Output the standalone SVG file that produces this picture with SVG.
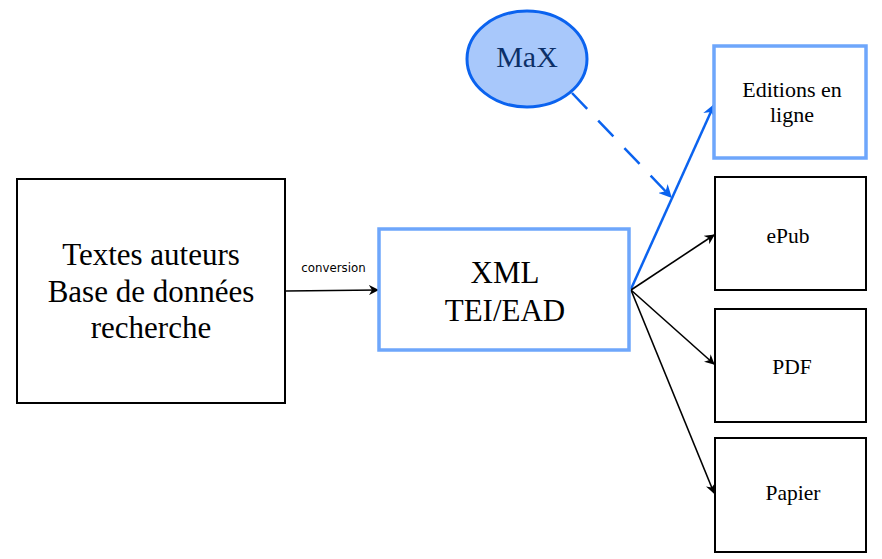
<svg xmlns="http://www.w3.org/2000/svg" width="882" height="559" viewBox="0 0 882 559">
<style>
.serif{font-family:"Liberation Serif","Times New Roman",serif;fill:#000;text-anchor:middle}
.box{fill:#fff;stroke:#000;stroke-width:2}
.bluebox{fill:#fff;stroke:#6ea6fb;stroke-width:3.5}
.conn{fill:none;stroke:#000;stroke-width:1.6}
</style>
<defs>
<marker id="ah" viewBox="0 0 10 10" refX="9" refY="5" markerWidth="10" markerHeight="10" markerUnits="userSpaceOnUse" orient="auto">
<path d="M0,0 L10,5 L0,10 L3,5 Z" fill="#000"/>
</marker>
<marker id="ahb" viewBox="0 0 10 10" refX="9" refY="5" markerWidth="13" markerHeight="13" markerUnits="userSpaceOnUse" orient="auto">
<path d="M0,0 L10,5 L0,10 L3,5 Z" fill="#0b63ef"/>
</marker>
</defs>
<rect width="882" height="559" fill="#fff"/>
<g id="connectors">
<line class="conn" x1="286" y1="291" x2="378" y2="290" marker-end="url(#ah)"/>
<text x="333.5" y="272" style="font-family:'DejaVu Sans',sans-serif;font-size:11.8px;fill:#000;text-anchor:middle">conversion</text>
<line x1="631" y1="289" x2="714" y2="105" stroke="#0b63ef" stroke-width="2.5" marker-end="url(#ahb)"/>
<line x1="572" y1="93" x2="671" y2="197" stroke="#0b63ef" stroke-width="2.5" stroke-dasharray="22,16" marker-end="url(#ahb)"/>
<line class="conn" x1="631" y1="290" x2="714" y2="235" marker-end="url(#ah)"/>
<line class="conn" x1="631" y1="290" x2="714" y2="364" marker-end="url(#ah)"/>
<line class="conn" x1="631" y1="290" x2="714" y2="493" marker-end="url(#ah)"/>
</g>
<g id="textes">
<rect class="box" x="17" y="179" width="268" height="224"/>
<text class="serif" font-size="31" x="151" y="265">Textes auteurs</text>
<text class="serif" font-size="31" x="151" y="302">Base de données</text>
<text class="serif" font-size="31" x="151" y="338">recherche</text>
</g>
<g id="xml">
<rect class="bluebox" x="379" y="229" width="250" height="121"/>
<text class="serif" font-size="31" x="505" y="283">XML</text>
<text class="serif" font-size="31" x="505" y="321">TEI/EAD</text>
</g>
<g id="max">
<ellipse cx="527" cy="59" rx="60" ry="48" fill="#a8c8fb" stroke="#0b63ef" stroke-width="3"/>
<text class="serif" font-size="30" x="527" y="67" style="fill:#0c3068">MaX</text>
</g>
<g id="editions">
<rect class="bluebox" x="714" y="46" width="152" height="112"/>
<text class="serif" font-size="22" x="792" y="97">Editions en</text>
<text class="serif" font-size="22" x="792" y="122">ligne</text>
</g>
<g id="epub">
<rect class="box" x="715" y="177" width="151" height="113"/>
<text class="serif" font-size="21.5" x="788" y="243">ePub</text>
</g>
<g id="pdf">
<rect class="box" x="715" y="309" width="151" height="113"/>
<text class="serif" font-size="21.5" x="792" y="374">PDF</text>
</g>
<g id="papier">
<rect class="box" x="715" y="438" width="151" height="114"/>
<text class="serif" font-size="21.5" x="793" y="500">Papier</text>
</g>
</svg>
